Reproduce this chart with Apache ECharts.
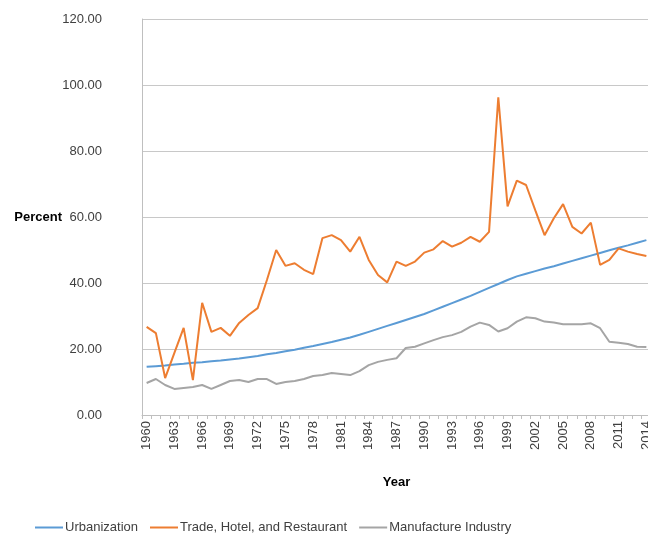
<!DOCTYPE html>
<html>
<head>
<meta charset="utf-8">
<script src="https://cdn.jsdelivr.net/npm/echarts@6/dist/echarts.min.js"></script>
<style>html,body{margin:0;padding:0;background:#fff;}#c{width:648px;height:537px;}</style>
</head>
<body>
<div id="c"></div>
<script>
const years = [];
for (let y = 1960; y <= 2014; y++) years.push(String(y));

const urbanization = [14.6,14.8,15.0,15.3,15.5,15.8,16.0,16.3,16.5,16.8,
  17.1,17.5,17.9,18.4,18.8,19.3,19.8,20.4,20.9,21.5,
  22.1,22.8,23.5,24.3,25.2,26.1,27.0,27.9,28.8,29.7,
  30.6,31.7,32.8,33.9,35.0,36.1,37.3,38.5,39.7,40.9,
  42.0,42.8,43.6,44.4,45.1,45.9,46.7,47.5,48.3,49.1,
  49.9,50.7,51.4,52.2,53.0];

const trade = [26.7,24.8,11.2,18.8,26.4,10.6,34.0,25.2,26.4,24.0,
  27.9,30.3,32.4,40.9,50.0,45.2,46.0,44.0,42.7,53.6,
  54.5,53.0,49.5,54.0,47.0,42.4,40.2,46.5,45.2,46.5,
  49.2,50.2,52.7,51.0,52.2,54.0,52.5,55.5,96.3,63.2,
  71.0,69.7,62.0,54.5,59.6,63.9,57.0,55.0,58.3,45.5,
  47.0,50.5,49.5,48.8,48.2];

const manufacture = [9.7,10.9,9.1,7.9,8.2,8.5,9.1,7.9,9.1,10.3,
  10.6,10.0,10.9,10.9,9.4,10.0,10.3,10.9,11.8,12.1,
  12.7,12.4,12.1,13.3,15.1,16.1,16.7,17.2,20.3,20.7,
  21.7,22.7,23.6,24.2,25.2,26.8,28.0,27.3,25.3,26.3,
  28.3,29.6,29.3,28.3,28.0,27.5,27.5,27.5,27.8,26.3,
  22.2,21.9,21.5,20.7,20.6];

const yTicks = {min: 0, max: 120, interval: 20};
const seriesNames = ['Urbanization', 'Trade, Hotel, and Restaurant', 'Manufacture Industry'];
const colors = ['#5B9BD5', '#ED7D31', '#A5A5A5'];

const chart = echarts.init(document.getElementById('c'), null, {renderer: 'canvas'});
const font = 'Liberation Sans, Arial, sans-serif';
chart.setOption({
  animation: false,
  color: colors,
  textStyle: {fontFamily: font},
  grid: {left: 142, top: 19, width: 509, bottom: 122, containLabel: false, outerBoundsMode: 'none'},
  legend: {
    top: 516, left: 30,
    icon: 'rect', itemWidth: 28, itemHeight: 2, itemGap: 12,
    textStyle: {fontSize: 13, color: '#404040', fontFamily: font, padding: [0,0,0,-3]},
    data: seriesNames
  },
  xAxis: {
    type: 'category', data: years, boundaryGap: true,
    name: 'Year', nameLocation: 'middle', nameGap: 61, nameMoveOverlap: false,
    nameTextStyle: {fontWeight: 'bold', fontSize: 13, color: '#000'},
    axisLine: {lineStyle: {color: '#bfbfbf'}},
    axisTick: {show: true, interval: 0, length: 4, lineStyle: {color: '#bfbfbf'}},
    axisLabel: {interval: 2, rotate: 90, fontSize: 13, color: '#404040', margin: 6},
    splitLine: {show: false}
  },
  yAxis: {
    type: 'value', min: yTicks.min, max: yTicks.max, interval: yTicks.interval,
    name: 'Percent', nameLocation: 'middle', nameRotate: 0, nameGap: 80, nameMoveOverlap: false,
    nameTextStyle: {fontWeight: 'bold', fontSize: 13, color: '#000'},
    axisLine: {show: true, lineStyle: {color: '#bfbfbf'}},
    axisTick: {show: false},
    axisLabel: {formatter: v => v.toFixed(2), fontSize: 13, color: '#404040', margin: 40},
    splitLine: {lineStyle: {color: '#c8c8c8', width: 1}}
  },
  series: [
    {name: seriesNames[0], type: 'line', data: urbanization, symbol: 'none', lineStyle: {width: 2}},
    {name: seriesNames[1], type: 'line', data: trade, symbol: 'none', lineStyle: {width: 2}},
    {name: seriesNames[2], type: 'line', data: manufacture, symbol: 'none', lineStyle: {width: 2}}
  ]
});
</script>
</body>
</html>
